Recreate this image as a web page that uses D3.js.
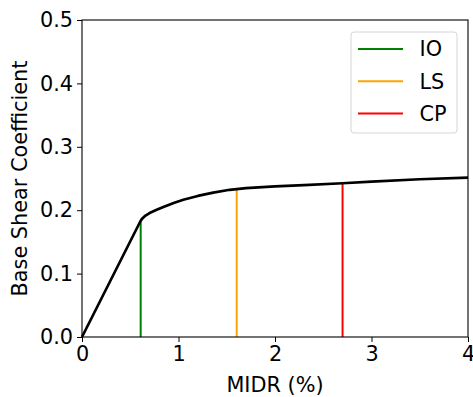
<!DOCTYPE html>
<html>
<head>
<meta charset="utf-8">
<script src="https://cdn.jsdelivr.net/npm/d3@7"></script>
<style>
  body { margin: 0; background: #fff; }
  text { font-family: "DejaVu Sans", sans-serif; }
</style>
</head>
<body>
<svg id="chart" width="473" height="397"></svg>
<script>
// capacity curve, MIDR (%) vs base shear coefficient
var midr = [0, 0.6, 0.62, 0.65, 0.7, 0.78, 0.85, 0.95, 1.05, 1.2, 1.36, 1.53, 1.7, 2.0, 2.3, 2.7, 3.0, 3.5, 4.0];
var shear = [0, 0.181, 0.186, 0.1905, 0.1955, 0.201, 0.2055, 0.2115, 0.2165, 0.2225, 0.2278, 0.2322, 0.2347, 0.2375, 0.2397, 0.2425, 0.2452, 0.2488, 0.2515];

var levels = ["IO", "LS", "CP"];
var levelMidr = [0.608, 1.603, 2.70];
var levelShear = [0.181, 0.232, 0.2425];
var levelColors = ["green", "orange", "red"];

var xTicks = [0, 1, 2, 3, 4];
var yTicks = [0, 0.1, 0.2, 0.3, 0.4, 0.5];

var fontSize = "20.8px";

var svg = d3.select("#chart");
var margin = {left: 82, right: 5, top: 20, bottom: 60};
var width = 473 - margin.left - margin.right,
	height = 397 - margin.top - margin.bottom;

var xScale = d3.scaleLinear().domain([0, 4]).range([0, width]);
var yScale = d3.scaleLinear().domain([0, 0.5]).range([height, 0]);

var g = svg.append("g").attr("transform", "translate(" + margin.left + "," + margin.top + ")");

// level markers
g.selectAll(".level").data(levels)
	.enter()
	.append("line")
	.attr("class", "level")
	.attr("x1", function (d, i) { return xScale(levelMidr[i]); })
	.attr("x2", function (d, i) { return xScale(levelMidr[i]); })
	.attr("y1", yScale(0))
	.attr("y2", function (d, i) { return yScale(levelShear[i]); })
	.style("stroke", function (d, i) { return levelColors[i]; })
	.style("stroke-width", 2);

var pts = midr.map(function (m, i) { return [m, shear[i]]; });
var line = d3.line()
	.x(function (d) { return xScale(d[0]); })
	.y(function (d) { return yScale(d[1]); });

g.append("path")
	.datum(pts)
	.attr("d", line)
	.style("fill", "none")
	.style("stroke", "#000")
	.style("stroke-width", 2.7)
	.style("stroke-linejoin", "round");

// axes
var xAxis = d3.axisBottom(xScale).tickValues(xTicks).tickFormat(d3.format("d")).tickSizeOuter(0).tickSize(5).tickPadding(4);
var yAxis = d3.axisLeft(yScale).tickValues(yTicks).tickFormat(d3.format(".1f")).tickSizeOuter(0).tickSize(5).tickPadding(4);

var gx = g.append("g").attr("transform", "translate(0," + height + ")").call(xAxis);
var gy = g.append("g").call(yAxis);
[gx, gy].forEach(function (a) {
	a.select(".domain").remove();
	a.attr("font-family", null).attr("font-size", null);
	a.selectAll("text").style("font-size", fontSize).style("fill", "#000");
	a.selectAll("line").style("stroke", "#000").style("stroke-width", 1);
});

// frame
g.append("rect")
	.attr("width", width)
	.attr("height", height)
	.style("fill", "none")
	.style("stroke", "#000")
	.style("stroke-width", 1.1);

// axis labels
svg.append("text")
	.attr("x", margin.left + width / 2)
	.attr("y", 392)
	.attr("text-anchor", "middle")
	.style("font-size", fontSize)
	.text("MIDR (%)");

svg.append("text")
	.attr("transform", "translate(27," + (margin.top + height / 2) + ") rotate(-90)")
	.attr("text-anchor", "middle")
	.style("font-size", fontSize)
	.text("Base Shear Coefficient");

// legend
var legend = svg.append("g").attr("transform", "translate(351,32)");
legend.append("rect")
	.attr("width", 106)
	.attr("height", 101)
	.attr("rx", 3)
	.style("fill", "#fff")
	.style("fill-opacity", 0.8)
	.style("stroke", "#d6d6d6")
	.style("stroke-width", 1);

var items = legend.selectAll(".item").data(levels)
	.enter()
	.append("g")
	.attr("class", "item")
	.attr("transform", function (d, i) { return "translate(0," + (17 + i * 32.3) + ")"; });
items.append("line")
	.attr("x1", 7)
	.attr("x2", 52)
	.style("stroke", function (d, i) { return levelColors[i]; })
	.style("stroke-width", 2);
items.append("text")
	.attr("x", 68.5)
	.attr("y", 7.3)
	.style("font-size", fontSize)
	.text(function (d) { return d; });
</script>
</body>
</html>
